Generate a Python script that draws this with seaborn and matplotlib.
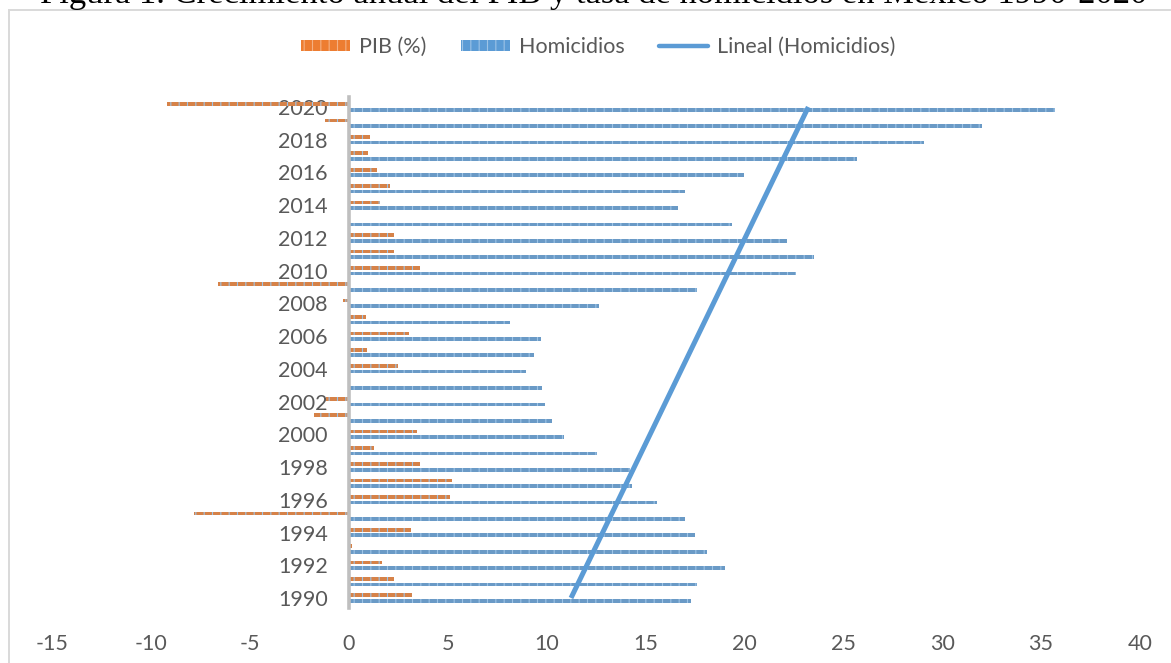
import matplotlib
matplotlib.use("Agg")
import matplotlib.pyplot as plt
from matplotlib.patches import Patch, Rectangle
from matplotlib.lines import Line2D
import numpy as np
import pandas as pd
import seaborn as sns

# Annual data, 1990-2020
years = list(range(1990, 2021))
pib = [3.22, 2.3, 1.66, 0.15, 3.14, -7.8, 5.1, 5.2, 3.6, 1.28,
       3.45, -1.74, -1.15, 0.0, 2.5, 0.9, 3.05, 0.85, -0.3, -6.6,
       3.6, 2.27, 2.27, 0.0, 1.57, 2.09, 1.45, 0.98, 1.1, -1.2, -9.2]
homicidios = [17.3, 17.6, 19.0, 18.1, 17.5, 17.0, 15.6, 14.33, 14.24, 12.56,
              10.88, 10.3, 9.92, 9.78, 8.94, 9.39, 9.7, 8.15, 12.64, 17.6,
              22.6, 23.5, 22.15, 19.4, 16.66, 17.0, 19.96, 25.7, 29.1, 32.0, 35.7]
series_names = ["PIB (%)", "Homicidios"]
trend_name = "Lineal (Homicidios)"
title = "Figura 1. Crecimiento anual del PIB y tasa de homicidios en México 1990-2020"
x_ticks = [-15, -10, -5, 0, 5, 10, 15, 20, 25, 30, 35, 40]

ORANGE = "#ED7D31"
BLUE = "#5B9BD5"
TEXT = "#595959"
STRIPE = {ORANGE: "#F4B183", BLUE: "#9DC3E6"}

sns.set_theme(style="white")
plt.rcParams["font.family"] = ["Lato", "DejaVu Sans"]
plt.rcParams["hatch.linewidth"] = 0.8

df = pd.DataFrame({
    "anio": [str(y) for y in years] * 2,
    "serie": [series_names[0]] * len(years) + [series_names[1]] * len(years),
    "valor": pib + homicidios,
})
order = [str(y) for y in reversed(years)]  # 2020 on top

fig = plt.figure(figsize=(11.71, 6.63), dpi=100)
ax = fig.add_axes([52 / 1171, 1 - 607.8 / 663, (1140 - 52) / 1171, (607.8 - 97.2) / 663])

sns.barplot(data=df, x="valor", y="anio", hue="serie", order=order,
            hue_order=series_names, palette=[ORANGE, BLUE], orient="h",
            width=0.68, gap=0.34, legend=False, ax=ax, linewidth=0)

# striped fill on the bars
for patch in ax.patches:
    fc = matplotlib.colors.to_hex(patch.get_facecolor())
    base = ORANGE if fc.lower() == ORANGE.lower() else BLUE
    patch.set_hatch("||")
    patch.set_edgecolor(STRIPE[base])
    patch.set_linewidth(0)

# linear trend of homicidios over time
t = np.arange(len(years))
slope, intercept = np.polyfit(t, homicidios, 1)
fit = slope * t + intercept
pos = [order.index(str(y)) for y in years]
ax.plot(fit, pos, color=BLUE, lw=3.6, solid_capstyle="butt", zorder=5)

ax.set_xlim(-15, 40)
ax.set_ylim(len(years) - 1 + 0.6, -0.6)
ax.set_xticks(x_ticks)
ax.set_xticklabels([str(v) for v in x_ticks])
even_pos = [order.index(str(y)) for y in years if y % 2 == 0]
ax.set_yticks(even_pos)
ax.set_yticklabels([order[p] for p in even_pos])
ax.set_xlabel("")
ax.set_ylabel("")

for side in ["top", "right", "bottom"]:
    ax.spines[side].set_visible(False)
ax.spines["left"].set_position(("data", 0))
ax.spines["left"].set_color("#BFBFBF")
ax.spines["left"].set_linewidth(2.6)
ax.tick_params(axis="y", length=0, pad=15, labelsize=15.5, labelcolor=TEXT)
ax.tick_params(axis="x", length=0, pad=19, labelsize=15.5, labelcolor=TEXT)
ax.set_facecolor("none")

handles = [
    Patch(facecolor=ORANGE, edgecolor=STRIPE[ORANGE], hatch="||", linewidth=0),
    Patch(facecolor=BLUE, edgecolor=STRIPE[BLUE], hatch="||", linewidth=0),
    Line2D([0], [0], color=BLUE, lw=3.2),
]
fig.legend(handles, series_names + [trend_name], loc="center",
           bbox_to_anchor=(598 / 1171, 1 - 47 / 663), ncol=3, frameon=False,
           fontsize=15.5, labelcolor=TEXT, handlelength=2.3, handleheight=0.45,
           handletextpad=0.4, columnspacing=1.6)

# chart frame
fig.patches.append(Rectangle((8.5 / 1171, -0.2), 1.3, 1.2 - 9.5 / 663,
                             transform=fig.transFigure, fill=False,
                             edgecolor="#D9D9D9", lw=1.4, zorder=0))

# caption above the frame, running off the top edge
fig.text(40 / 1171, 1 - 2.5 / 663, title, ha="left", va="baseline",
         fontsize=24.8, family=["Liberation Serif", "DejaVu Serif"], color="black")

fig.savefig("out.png", dpi=100, facecolor="white")
